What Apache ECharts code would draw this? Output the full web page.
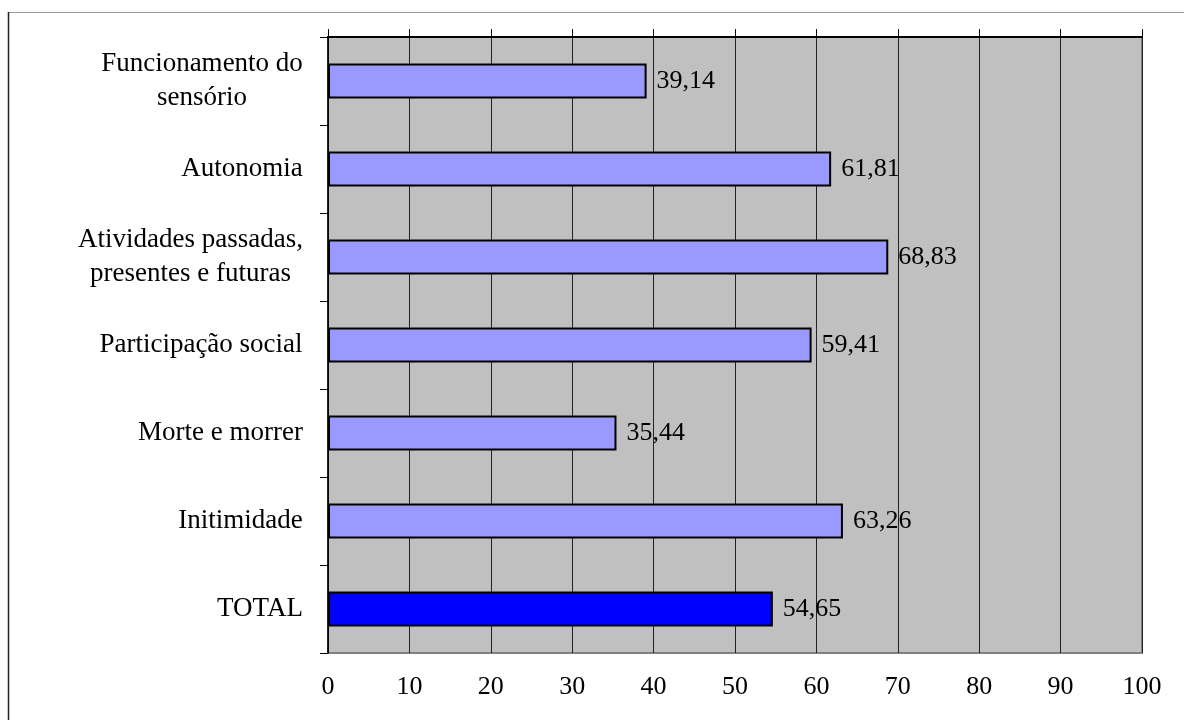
<!DOCTYPE html>
<html>
<head>
<meta charset="utf-8">
<script src="https://cdn.jsdelivr.net/npm/echarts@6/dist/echarts.min.js"></script>
<style>
  html, body { margin: 0; padding: 0; background: #fff; }
  #chart { width: 1184px; height: 720px; }
</style>
</head>
<body>
<div id="chart"></div>
<script>
const categories = [
  'Funcionamento do\nsensório',
  'Autonomia',
  'Atividades passadas,\npresentes e futuras',
  'Participação social',
  'Morte e morrer',
  'Initimidade',
  'TOTAL'
];
const values = [39.14, 61.81, 68.83, 59.41, 35.44, 63.26, 54.65];
const xTicks = [0, 10, 20, 30, 40, 50, 60, 70, 80, 90, 100];

const barColor = '#9999ff';
const totalColor = '#0000ff';
const fontFamily = '"Liberation Serif", "Times New Roman", serif';
const fontSize = 26;
const catFontSize = 27;

// width of the longest line, so wrapped labels are centred line by line
const ctx = document.createElement('canvas').getContext('2d');
ctx.font = catFontSize + 'px ' + fontFamily;
function lineWidth(label) {
  return Math.ceil(Math.max(...label.split('\n').map(s => ctx.measureText(s).width)));
}
const rich = {};
categories.forEach((c, i) => {
  rich['c' + i] = { width: lineWidth(c), align: 'center', fontSize: catFontSize, lineHeight: 34, fontFamily: fontFamily, color: '#000' };
});

const chart = echarts.init(document.getElementById('chart'));

const option = {
  animation: false,
  backgroundColor: '#fff',
  textStyle: { fontFamily: fontFamily },
  graphic: [
    // outer chart frame
    { type: 'line', shape: { x1: 8, y1: 12.5, x2: 1184, y2: 12.5 }, style: { stroke: '#999', lineWidth: 1 }, silent: true },
    { type: 'line', shape: { x1: 8.5, y1: 12, x2: 8.5, y2: 720 }, style: { stroke: '#222', lineWidth: 1.5 }, silent: true }
  ],
  grid: {
    left: 328,
    right: 42,
    top: 37,
    bottom: 67,
    show: true,
    backgroundColor: '#c0c0c0',
    borderColor: '#808080',
    borderWidth: 2
  },
  xAxis: [
    {
      type: 'value',
      position: 'bottom',
      min: 0,
      max: 100,
      interval: 10,
      axisLine: { show: false },
      axisTick: { show: false },
      axisLabel: {
        color: '#000',
        fontSize: fontSize,
        fontFamily: fontFamily,
        margin: 21,
        formatter: v => xTicks.includes(v) ? String(v) : ''
      },
      splitLine: { show: true, lineStyle: { color: '#222', width: 1 } }
    },
    {
      type: 'value',
      position: 'top',
      min: 0,
      max: 100,
      interval: 10,
      axisLine: { show: true, onZero: false, lineStyle: { color: '#000', width: 2 } },
      axisTick: { show: true, inside: false, length: 8, lineStyle: { color: '#000', width: 1 } },
      axisLabel: { show: false },
      splitLine: { show: false }
    }
  ],
  yAxis: {
    type: 'category',
    inverse: true,
    data: categories,
    axisLine: { show: true, lineStyle: { color: '#000', width: 1.5 } },
    axisTick: { show: true, length: 8, lineStyle: { color: '#000' } },
    axisLabel: {
      color: '#000',
      fontSize: catFontSize,
      fontFamily: fontFamily,
      margin: 25,
      lineHeight: 34,
      align: 'right',
      formatter: (v, i) => '{c' + i + '|' + v + '}',
      rich: rich
    },
    splitLine: { show: false }
  },
  series: [
    {
      type: 'bar',
      xAxisIndex: 0,
      barWidth: 35,
      data: values.map((v, i) => ({
        value: v,
        itemStyle: { color: i === values.length - 1 ? totalColor : barColor }
      })),
      itemStyle: { borderColor: '#000', borderWidth: 2 },
      label: {
        show: true,
        position: 'right',
        distance: 10,
        color: '#000',
        fontSize: fontSize,
        fontFamily: fontFamily,
        formatter: p => p.value.toFixed(2).replace('.', ',')
      }
    }
  ]
};

chart.setOption(option);
</script>
</body>
</html>
